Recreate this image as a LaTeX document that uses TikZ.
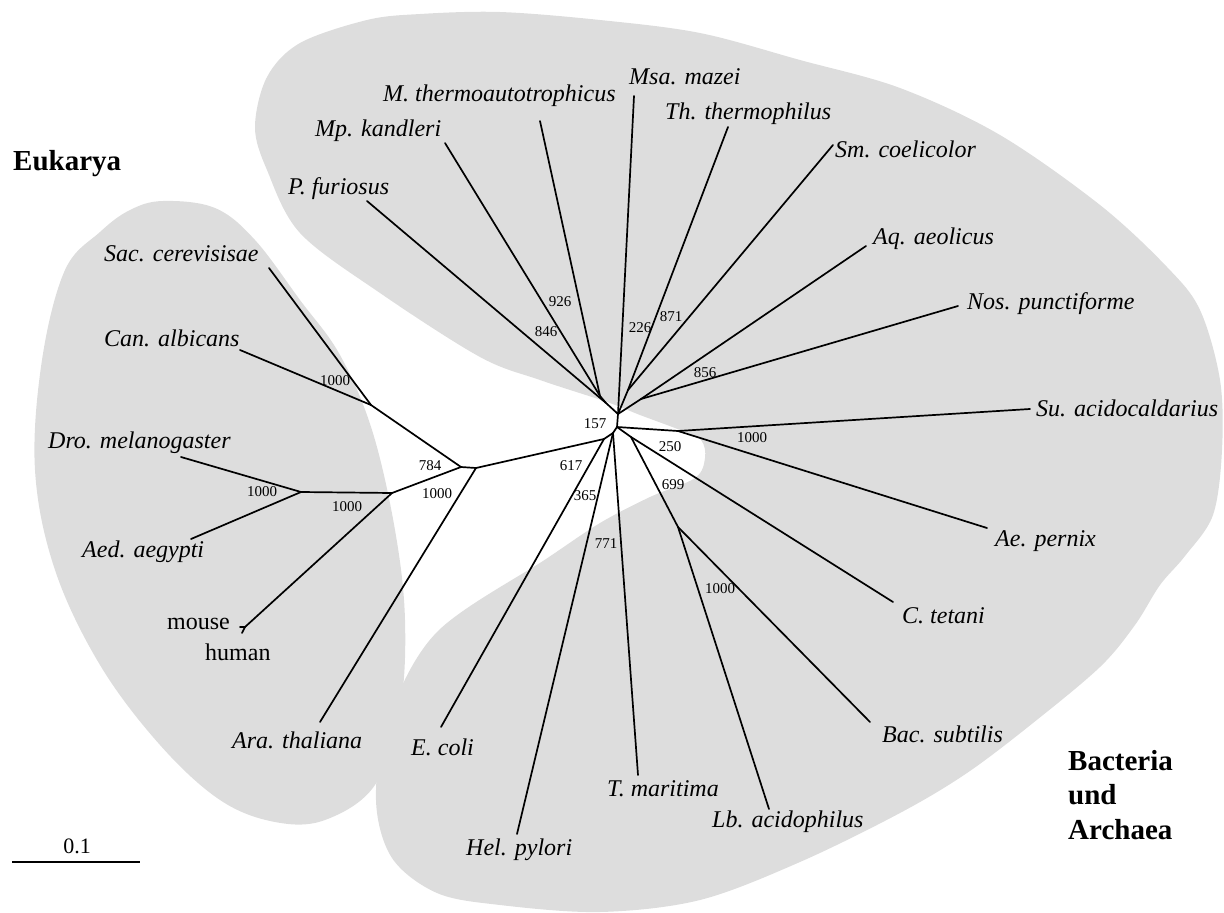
\documentclass[tikz,border=0pt]{standalone}
\usepackage{fontspec}
\setmainfont{Liberation Serif}
\definecolor{blob}{RGB}{221,221,221}
\begin{document}
\begin{tikzpicture}[x=1pt,y=-1pt,
  br/.style={line width=1.7pt, line cap=round, line join=round},
  sp/.style={font=\fontsize{24}{28}\selectfont\itshape, inner sep=0pt, anchor=base west},
  up/.style={font=\fontsize{24}{28}\selectfont, inner sep=0pt, anchor=base west},
  bs/.style={font=\fontsize{15}{18}\selectfont, inner sep=0pt},
  grp/.style={font=\fontsize{29}{35}\selectfont\bfseries, inner sep=0pt, anchor=base west},
  area/.style={fill=blob, draw=none}
]
\useasboundingbox (0,0) rectangle (1224,913);

% background groups
\fill[area] plot[smooth cycle, tension=0.6] coordinates {
 (163,201) (215,208) (255,240) (300,300) (340,355) (372,430) (395,530)
 (405,620) (400,710) (375,785) (325,820) (275,822) (220,800) (160,745)
 (100,665) (55,570) (35,470) (42,360) (65,270) (100,232) (130,210)};
\fill[area] plot[smooth cycle, tension=0.55] coordinates {
 (255,127) (267,77) (300,43) (367,20) (420,14) (500,12) (600,20) (700,33)
 (800,60) (900,88) (1000,135) (1100,205) (1167,267) (1200,310) (1220,380)
 (1222,450) (1213,515) (1185,556) (1160,585) (1135,625) (1100,667) (1033,723)
 (967,773) (900,813) (800,862) (700,900) (600,912) (500,905) (437,893)
 (392,858) (376,800) (388,720) (437,632) (546,559) (600,523) (650,497)
 (695,478) (705,458) (701,440) (680,430) (640,415) (607,402) (540,380)
 (480,357) (380,293) (300,233) (267,170)};

% tree coordinates
\coordinate (U) at (618,414);
\coordinate (M) at (617,427);
\coordinate (L) at (613,433);
\coordinate (nMM) at (600,396);
\coordinate (nPM) at (606,403);
\coordinate (nTS) at (628,390);
\coordinate (nAN) at (641,399);
\coordinate (nSA) at (678,431);
\coordinate (n250) at (631,437);
\coordinate (n699) at (678,527);
\coordinate (nE) at (604,439);
\coordinate (E1) at (476,468);
\coordinate (E2) at (461,467);
\coordinate (S) at (371,405);
\coordinate (H) at (392,493);
\coordinate (D) at (301,492);
\coordinate (mh) at (245,627);

\coordinate (tPf) at (367,201);
\coordinate (tMp) at (445,143);
\coordinate (tMt) at (540,121);
\coordinate (tMsa) at (634,96);
\coordinate (tTh) at (728,127);
\coordinate (tSm) at (833,145);
\coordinate (tAq) at (866,246);
\coordinate (tNos) at (958,306);
\coordinate (tSu) at (1030,409);
\coordinate (tAe) at (987,528);
\coordinate (tCt) at (893,602);
\coordinate (tBac) at (870,722);
\coordinate (tLb) at (769,809);
\coordinate (tTm) at (638,775);
\coordinate (tHel) at (517,834);
\coordinate (tEc) at (441,727);
\coordinate (tAra) at (320,722);
\coordinate (tMo) at (240,627);
\coordinate (tHu) at (242,633);
\coordinate (tAed) at (191,539);
\coordinate (tDro) at (181,457);
\coordinate (tCan) at (240,350);
\coordinate (tSac) at (269,268);

% branches
\draw[br] (tPf) -- (nPM);
\draw[br] (tMp) -- (nMM);
\draw[br] (tMt) -- (nMM);
\draw[br] (nMM) -- (nPM) -- (U);
\draw[br] (tMsa) -- (U);
\draw[br] (tTh) -- (nTS);
\draw[br] (tSm) -- (nTS);
\draw[br] (nTS) -- (U);
\draw[br] (tAq) -- (nAN);
\draw[br] (tNos) -- (nAN);
\draw[br] (nAN) -- (U);
\draw[br] (U) -- (M) -- (L);
\draw[br] (M) -- (nSA);
\draw[br] (nSA) -- (tSu);
\draw[br] (nSA) -- (tAe);
\draw[br] (M) -- (n250);
\draw[br] (n250) -- (tCt);
\draw[br] (n250) -- (n699);
\draw[br] (n699) -- (tLb);
\draw[br] (n699) -- (tBac);
\draw[br] (L) -- (tTm);
\draw[br] (L) -- (tHel);
\draw[br] (L) -- (nE);
\draw[br] (nE) -- (tEc);
\draw[br] (nE) -- (E1);
\draw[br] (E1) -- (tAra);
\draw[br] (E1) -- (E2);
\draw[br] (E2) -- (S);
\draw[br] (S) -- (tSac);
\draw[br] (S) -- (tCan);
\draw[br] (E2) -- (H);
\draw[br] (H) -- (D);
\draw[br] (D) -- (tDro);
\draw[br] (D) -- (tAed);
\draw[br] (H) -- (mh);
\draw[br] (mh) -- (tMo);
\draw[br] (mh) -- (tHu);

% species labels
\node[sp] (lPf) at (288,194) {P. furiosus};
\node[sp] (lMp) at (315,136) {Mp. kandleri};
\node[sp] (lMt) at (383,101) {M. thermoautotrophicus};
\node[sp] (lMsa) at (629,84) {Msa. mazei};
\node[sp] (lTh) at (665,119) {Th. thermophilus};
\node[sp] (lSm) at (835,157) {Sm. coelicolor};
\node[sp] (lAq) at (873,244) {Aq. aeolicus};
\node[sp] (lNos) at (967,309) {Nos. punctiforme};
\node[sp] (lSu) at (1036,416) {Su. acidocaldarius};
\node[sp] (lAe) at (995,546) {Ae. pernix};
\node[sp] (lCt) at (902,623) {C. tetani};
\node[sp] (lBac) at (882,742) {Bac. subtilis};
\node[sp] (lLb) at (712,827) {Lb. acidophilus};
\node[sp] (lTm) at (607,796) {T. maritima};
\node[sp] (lHel) at (466,855) {Hel. pylori};
\node[sp] (lEc) at (411,755) {E. coli};
\node[sp] (lAra) at (232,748) {Ara. thaliana};
\node[up] (lMo) at (167,629) {mouse};
\node[up] (lHu) at (205,660) {human};
\node[sp] (lAed) at (82,557) {Aed. aegypti};
\node[sp] (lDro) at (48,448) {Dro. melanogaster};
\node[sp] (lCan) at (104,346) {Can. albicans};
\node[sp] (lSac) at (104,261) {Sac. cerevisisae};

% group labels
\node[grp] (gEu) at (13,170) {Eukarya};
\node[grp] (gB1) at (1068,770) {Bacteria};
\node[grp] (gB2) at (1068,804) {und};
\node[grp] (gB3) at (1068,839) {Archaea};

% bootstrap values
\node[bs] (b926) at (560,302) {926};
\node[bs] (b846) at (546,332) {846};
\node[bs] (b226) at (640,328) {226};
\node[bs] (b871) at (671,317) {871};
\node[bs] (b856) at (705,373) {856};
\node[bs] (b157) at (595,424) {157};
\node[bs] (b250) at (670,447) {250};
\node[bs] (bSA) at (752,438) {1000};
\node[bs] (b699) at (673,485) {699};
\node[bs] (b617) at (571,466) {617};
\node[bs] (b365) at (585,496) {365};
\node[bs] (b771) at (606,544) {771};
\node[bs] (bBac) at (720,589) {1000};
\node[bs] (bCS) at (335,381) {1000};
\node[bs] (b784) at (430,466) {784};
\node[bs] (bEA) at (437,494) {1000};
\node[bs] (bDA) at (262,492) {1000};
\node[bs] (bH) at (347,507) {1000};

% scale bar
\coordinate (sb1) at (12,862);
\coordinate (sb2) at (140,862);
\draw[line width=1.7pt] (sb1) -- (sb2);
\node[font=\fontsize{22}{26}\selectfont, inner sep=0pt, anchor=base] (lsb) at (77,853) {0.1};
\end{tikzpicture}
\end{document}
